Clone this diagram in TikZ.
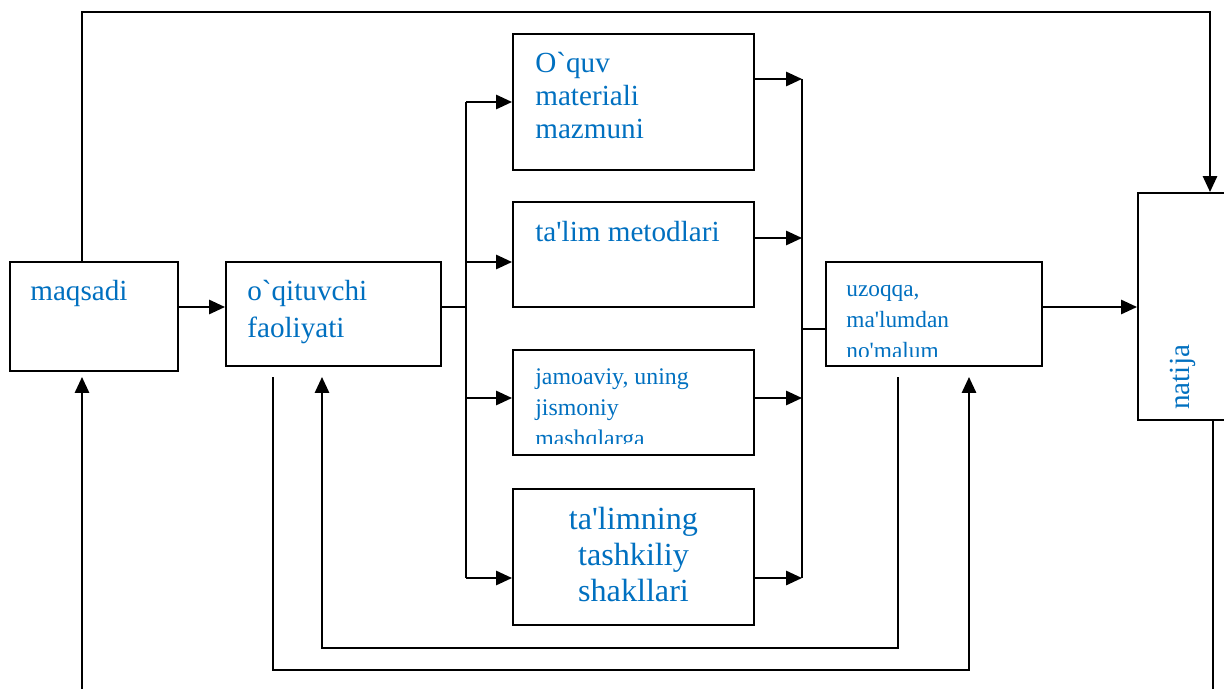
\documentclass[tikz,border=0pt]{standalone}
\usepackage{fontspec}
\setmainfont{Liberation Serif}[Ligatures=TeXOff]
\usetikzlibrary{arrows.meta}

\tikzstyle{block}=[draw, line width=1.2pt, inner sep=0pt, fill=white]
\tikzstyle{block-text}=[inner sep=0pt, anchor=base west, align=left, text=blocktext]
\tikzstyle{flow-line}=[line width=1.2pt]
\tikzstyle{flow-arrow}=[flow-line, -{Triangle[length=9.5pt, width=8.5pt]}]
\definecolor{blocktext}{HTML}{0070C0}

\begin{document}
\begin{tikzpicture}[x=0.6pt, y=-0.6pt]
      \useasboundingbox (0,0) rectangle (1224,688);
      \begin{scope}
      \clip (0,0) rectangle (1224,688);

      % boxes
      \node (maqsadi) at (94, 316.5)
            [block, minimum width=100.8pt, minimum height=65.4pt] {};
      \node (faoliyat) at (333.5, 314)
            [block, minimum width=129pt, minimum height=62.4pt] {};
      \node (mazmun) at (633.5, 102)
            [block, minimum width=144.6pt, minimum height=81.6pt] {};
      \node (metod) at (633.5, 254.5)
            [block, minimum width=144.6pt, minimum height=63pt] {};
      \node (jamoa) at (633.5, 402.5)
            [block, minimum width=144.6pt, minimum height=63pt] {};
      \node (shakl) at (633.5, 557)
            [block, minimum width=144.6pt, minimum height=81.6pt] {};
      \node (malum) at (934, 314)
            [block, minimum width=129.6pt, minimum height=62.4pt] {};
      \node (natija) at (1189, 306.5)
            [block, minimum width=61.2pt, minimum height=136.2pt] {};

      % texts (base = last line)
      \node (maqsadi-text) at (30, 300)
            [block-text, font={\fontsize{17.5}{20}\selectfont}] {maqsadi};
      \node (faoliyat-text) at (247, 337)
            [block-text, font={\fontsize{17.5}{22.2}\selectfont}] {o`qituvchi\\faoliyati};
      \node (mazmun-text) at (535, 139)
            [block-text, font={\fontsize{17.5}{19.8}\selectfont}] {O`quv\\materiali\\mazmuni};
      \node (metod-text) at (535, 241)
            [block-text, font={\fontsize{17.5}{20}\selectfont}] {ta'lim metodlari};
      \begin{scope}
        \clip (jamoa.north west) rectangle (jamoa.east |- 0,443);
        \node (jamoa-text) at (535, 446)
              [block-text, font={\fontsize{14.3}{18.6}\selectfont}] {jamoaviy, uning\\jismoniy\\mashqlarga};
      \end{scope}
      \node (shakl-text) at (633.5, 601)
            [block-text, anchor=base, align=center, font={\fontsize{19.3}{21.6}\selectfont}] {ta'limning\\tashkiliy\\shakllari};
      \begin{scope}
        \clip (malum.north west) rectangle (malum.east |- 0,356);
        \node (malum-text) at (846, 358)
              [block-text, font={\fontsize{14}{18.6}\selectfont}] {uzoqqa,\\ma'lumdan\\no'malum};
      \end{scope}
      \node (natija-text) at (1189, 410)
            [block-text, rotate=90, font={\fontsize{17.5}{20}\selectfont}] {natija};

      % bus points
      \coordinate (split) at (466, 307);
      \coordinate (merge) at (802, 329);
      \coordinate (top) at (1210, 12);
      \coordinate (in-low) at (82, 700);
      \coordinate (out-low) at (1213, 700);

      % connectors
      \draw[flow-arrow] (maqsadi.east |- 0,307) -- (faoliyat.west |- 0,307);
      \draw[flow-line] (faoliyat.east |- split) -- (split);
      \draw[flow-line] (split |- 0,102) -- (split |- 0,578);
      \foreach \blk/\y in {mazmun/102, metod/262, jamoa/398, shakl/578}
        \draw[flow-arrow] (split |- 0,\y) -- (\blk.west |- 0,\y);
      \foreach \blk/\y in {mazmun/79, metod/238, jamoa/398, shakl/578}
        \draw[flow-arrow] (\blk.east |- 0,\y) -- (merge |- 0,\y);
      \draw[flow-line] (merge |- 0,79) -- (merge |- 0,578);
      \draw[flow-line] (merge) -- (malum.west |- merge);
      \draw[flow-arrow] (malum.east |- 0,307) -- (natija.west |- 0,307);
      \draw[flow-arrow] (maqsadi.north -| 82,0) |- (top) -- (natija.north -| top);
      \draw[flow-line] (natija.south -| out-low) -- (out-low);
      \draw[flow-arrow, shorten >=3pt] (in-low) -- (maqsadi.south -| in-low);

      % feedback
      \draw[flow-arrow, shorten <=6pt, shorten >=6pt]
            (faoliyat.south -| 273,0) -- (273,670) -| (malum.south -| 969,0);
      \draw[flow-arrow, shorten <=6pt, shorten >=6pt]
            (malum.south -| 898,0) -- (898,648) -| (faoliyat.south -| 322,0);
      \end{scope}
    \end{tikzpicture}
\end{document}
